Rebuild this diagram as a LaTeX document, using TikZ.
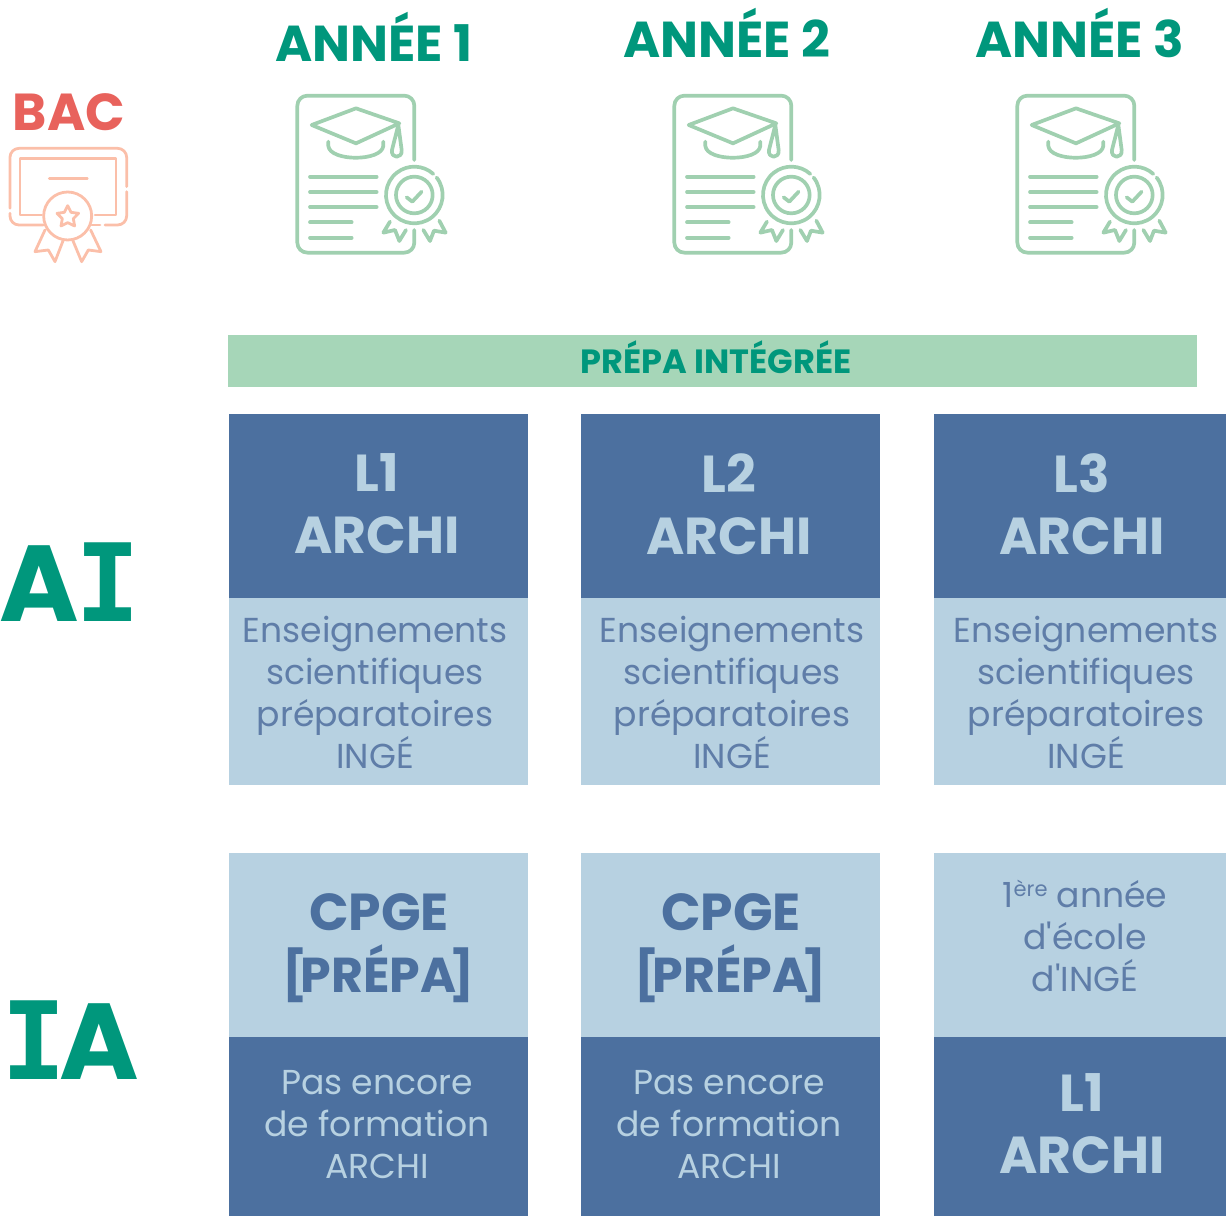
\documentclass[tikz,border=0pt]{standalone}
\usepackage{fontspec}
\setmainfont{Poppins}
\newfontfamily\slabfont{DejaVu Sans Mono}[BoldFont={DejaVu Sans Mono Bold}]
\definecolor{teal}{HTML}{00977C}
\definecolor{mint}{HTML}{A6D6B8}
\definecolor{iconmint}{HTML}{A0D0B0}
\definecolor{navy}{HTML}{4C709F}
\definecolor{sky}{HTML}{B7D1E1}
\definecolor{midblue}{HTML}{5F7DA8}
\definecolor{bacred}{HTML}{E8625C}
\definecolor{salmon}{HTML}{FBBFA9}
\newcommand{\prepatext}{{\fontsize{49}{62}\selectfont\kern-1pt[\kern-7pt PRÉPA\kern-7pt]}}
\tikzset{
  x=1pt,y=-1pt,
  darkbox/.style={fill=navy,draw=none},
  lightbox/.style={fill=sky,draw=none},
  year/.style={text=teal,font=\bfseries\fontsize{50.5}{56}\selectfont,inner sep=0pt},
  bigdark/.style={text=sky,font=\bfseries\fontsize{52}{62}\selectfont,align=center,inner sep=0pt},
  biglight/.style={text=navy,font=\bfseries\fontsize{52}{62}\selectfont,align=center,inner sep=0pt},
  smalllight/.style={text=midblue,font=\fontsize{34.6}{42}\selectfont,align=center,inner sep=0pt},
  smalldark/.style={text=sky,font=\fontsize{34.6}{42}\selectfont,align=center,inner sep=0pt},
  sidelabel/.style={text=teal,font=\bfseries\fontsize{108}{108}\selectfont,inner sep=0pt},
  dipline/.style={draw=iconmint,line width=3.7pt,line cap=round,line join=round},
  bacline/.style={draw=salmon,line width=2.8pt,line cap=round,line join=round},
}
\newcommand{\dipicon}[2]{%
\begin{scope}[shift={(#1,#2)},xscale=0.3333,yscale=0.3333,dipline]
 \draw[rounded corners=10pt] (403,240) -- (403,47) -- (52,47) -- (52,518) -- (403,518) -- (403,450);
 \draw (228,85) -- (358,130) -- (228,190) -- (95,135) -- cycle;
 \draw (145,185) -- (145,198) .. controls (150,245) and (305,245) .. (310,198) -- (310,185);
 \draw (355,135) -- (336,210) .. controls (332,237) and (368,237) .. (365,210) -- (355,135);
 \foreach \yy/\xx in {290/290,336/290,381/290,427/215,473/215} \draw (90,\yy) -- (\xx,\yy);
 \draw (403,345) ++(-38:85) arc[start angle=-38,end angle=312,radius=85];
 \draw (403,345) circle[radius=55];
 \draw (380,352) -- (397,365) -- (425,335);
 \draw (330,425) -- (310,458) -- (345,450) -- (358,483) -- (378,450);
 \draw (430,450) -- (450,483) -- (462,452) -- (497,458) -- (478,422);
\end{scope}}
\begin{document}
\begin{tikzpicture}
\useasboundingbox (0,0) rectangle (1226,1216);
% headers
\node[year] (y1) at (374,37) {ANNÉE 1};
\node[year] (y2) at (727,33) {ANNÉE 2};
\node[year] (y3) at (1080,33) {ANNÉE 3};
\node[text=bacred,font=\bfseries\fontsize{52}{52}\selectfont,inner sep=0pt] (bac) at (69,112) {BAC};
% icons
\dipicon{280}{80}
\dipicon{657}{80}
\dipicon{1000}{80}
% BAC icon
\begin{scope}[shift={(0,80)},xscale=0.3333,yscale=0.3333,bacline]
 \draw[rounded corners=9pt] (30,385) -- (30,205) -- (380,205) -- (380,320);
 \draw[rounded corners=9pt] (380,335) -- (380,435) -- (315,435);
 \draw (300,435) -- (275,435);
 \draw[rounded corners=9pt] (30,400) -- (30,435) -- (130,435);
 \draw (125,405) -- (60,405) -- (60,235) -- (348,235) -- (348,405) -- (285,405);
 \draw (148,295) -- (262,295);
 \draw (203,408) circle[radius=72];
 \draw (203,377) -- (213,397) -- (236,400) -- (220,416) -- (224,438) -- (203,428) -- (183,438) -- (187,416) -- (171,400) -- (193,397) -- cycle;
 \draw (135,450) -- (105,515) -- (145,510) -- (165,545) -- (190,480);
 \draw (218,480) -- (245,545) -- (265,510) -- (303,515) -- (272,450);
\end{scope}
% band
\fill[mint] (228,335) rectangle (1197,387);
\node[text=teal,font=\bfseries\fontsize{33.6}{36}\selectfont,inner sep=0pt] (band) at (716,357) {PRÉPA INTÉGRÉE};
% AI row
\fill[darkbox] (229,414) rectangle (528,598);
\fill[darkbox] (581,414) rectangle (880,598);
\fill[darkbox] (934,414) rectangle (1226,598);
\fill[lightbox] (229,598) rectangle (528,785);
\fill[lightbox] (581,598) rectangle (880,785);
\fill[lightbox] (934,598) rectangle (1226,785);
\node[bigdark] (a1) at (377,504) {L1\\ARCHI};
\node[bigdark] (a2) at (729,504) {L2\\ARCHI};
\node[bigdark] (a3) at (1082,504) {L3\\ARCHI};
\node[smalllight] (b1) at (375,692) {Enseignements\\scientifiques\\préparatoires\\INGÉ};
\node[smalllight] (b2) at (732,692) {Enseignements\\scientifiques\\préparatoires\\INGÉ};
\node[smalllight] (b3) at (1086,692) {Enseignements\\scientifiques\\préparatoires\\INGÉ};
% IA row
\fill[lightbox] (229,853) rectangle (528,1037);
\fill[lightbox] (581,853) rectangle (880,1037);
\fill[lightbox] (934,853) rectangle (1226,1037);
\fill[darkbox] (229,1037) rectangle (528,1216);
\fill[darkbox] (581,1037) rectangle (880,1216);
\fill[darkbox] (934,1037) rectangle (1226,1216);
\node[biglight] (c1) at (379,948) {CPGE\\\prepatext};
\node[biglight] (c2) at (731,948) {CPGE\\\prepatext};
\node[smalllight] (c3) at (1085,936) {1\raisebox{0.55ex}{\fontsize{21}{21}\selectfont ère} année\\d\textquotesingle école\\d\textquotesingle INGÉ};
\node[smalldark] (d1) at (377,1125) {Pas encore\\de formation\\ARCHI};
\node[smalldark] (d2) at (729,1125) {Pas encore\\de formation\\ARCHI};
\node[bigdark] (d3) at (1082,1124) {L1\\ARCHI};
% side labels
\node[sidelabel] (ai) at (70,582) {A\kern-4pt{\slabfont\bfseries I}};
\node[sidelabel] (ia) at (70.5,1040) {{\slabfont\bfseries I}\kern-7pt A};
\end{tikzpicture}
\end{document}
